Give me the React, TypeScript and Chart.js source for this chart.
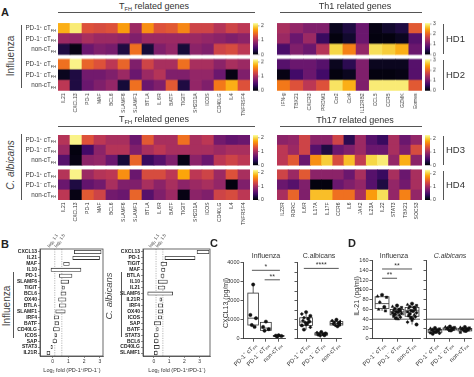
import React, { useEffect, useRef } from "react";
import { Chart, registerables } from "chart.js";

Chart.register(...registerables);
const FONT = "'Liberation Sans', Arial, Helvetica, sans-serif";
Chart.defaults.font.family = FONT;

// ================= Panel A : heat maps =================
const tfhGenes = ["IL21", "CXCL13", "PD-1", "MAF", "BCL6", "SLAMF6", "SLAMF1", "BTLA", "IL 6R", "BATF", "TIGIT", "SH2D1A", "ICOS", "CD40LG", "IL4", "TNFRSF4"];
const th1Genes = ["IFN-g", "TBX21", "CXCR3", "PRDM1", "Ccr2", "Ccl4", "IL12RB2", "CCL5", "CCR5", "GZMK", "Eomes"];
const th17Genes = ["IL23R", "RORC", "IL6R", "IL17A", "IL17F", "CCR6", "IL6", "JAK2", "IL23A", "IL22", "STAT3", "TBX21", "SOCS3"];

// cell values as fraction of each colour scale; rows = PD-1+ cTFH, PD-1- cTFH, non-cTFH
const tfhHD1Pos = [0.82, 0.95, 0.6, 0.58, 0.6, 0.78, 0.42, 0.75, 0.6, 0.62, 0.73, 0.55, 0.55, 0.48, 0.55, 0.5];
const tfhHD1Neg = [0.42, 0.4, 0.45, 0.42, 0.42, 0.4, 0.35, 0.42, 0.42, 0.42, 0.42, 0.42, 0.4, 0.38, 0.35, 0.38];
const tfhHD1Non = [0.12, 0.03, 0.3, 0.35, 0.33, 0.12, 0.68, 0.1, 0.35, 0.4, 0.1, 0.38, 0.35, 0.55, 0.58, 0.5];
const tfhHD2Pos = [0.68, 0.97, 0.65, 0.6, 0.5, 0.65, 0.35, 0.55, 0.45, 0.45, 0.68, 0.45, 0.45, 0.38, 0.45, 0.42];
const tfhHD2Neg = [0.05, 0.12, 0.32, 0.32, 0.35, 0.42, 0.3, 0.42, 0.48, 0.35, 0.35, 0.4, 0.4, 0.3, 0.03, 0.35];
const tfhHD2Non = [0.5, 0.12, 0.3, 0.35, 0.4, 0.1, 0.68, 0.3, 0.35, 0.62, 0.12, 0.4, 0.35, 0.7, 0.82, 0.6];

const th1HD1Pos = [0.45, 0.4, 0.35, 0.35, 0.05, 0.12, 0.3, 0.03, 0.08, 0.12, 0.62];
const th1HD1Neg = [0.42, 0.3, 0.42, 0.18, 0.02, 0.08, 0.3, 0.02, 0.02, 0.05, 0.25];
const th1HD1Non = [0.22, 0.35, 0.3, 0.48, 0.9, 0.72, 0.4, 0.92, 0.88, 0.82, 0.3];
const th1HD2Pos = [0.25, 0.3, 0.3, 0.25, 0.05, 0.15, 0.35, 0.05, 0.05, 0.05, 0.25];
const th1HD2Neg = [0.03, 0.2, 0.3, 0.2, 0.02, 0.05, 0.35, 0.02, 0.02, 0.03, 0.25];
const th1HD2Non = [0.7, 0.6, 0.5, 0.6, 0.93, 0.82, 0.35, 0.95, 0.95, 0.95, 0.62];

const tfhHD3Pos = [0.48, 0.97, 0.6, 0.5, 0.45, 0.45, 0.3, 0.62, 0.45, 0.45, 0.68, 0.45, 0.5, 0.32, 0.28, 0.3];
const tfhHD3Neg = [0.42, 0.02, 0.2, 0.38, 0.48, 0.48, 0.35, 0.45, 0.5, 0.45, 0.45, 0.45, 0.45, 0.42, 0.45, 0.45];
const tfhHD3Non = [0.25, 0.03, 0.38, 0.4, 0.3, 0.1, 0.65, 0.18, 0.25, 0.35, 0.03, 0.38, 0.3, 0.5, 0.55, 0.5];
const tfhHD4Pos = [0.48, 0.97, 0.42, 0.48, 0.5, 0.75, 0.3, 0.58, 0.58, 0.5, 0.8, 0.5, 0.55, 0.42, 0.6, 0.45];
const tfhHD4Neg = [0.3, 0.12, 0.28, 0.32, 0.45, 0.35, 0.35, 0.45, 0.38, 0.45, 0.38, 0.42, 0.45, 0.4, 0.02, 0.35];
const tfhHD4Non = [0.5, 0.03, 0.62, 0.55, 0.32, 0.3, 0.65, 0.25, 0.35, 0.42, 0.03, 0.38, 0.35, 0.55, 0.58, 0.5];

const th17HD3Pos = [0.38, 0.4, 0.55, 0.38, 0.38, 0.55, 0.15, 0.42, 0.25, 0.18, 0.45, 0.3, 0.4];
const th17HD3Neg = [0.5, 0.42, 0.55, 0.25, 0.12, 0.3, 0.35, 0.42, 0.3, 0.3, 0.45, 0.35, 0.58];
const th17HD3Non = [0.5, 0.62, 0.3, 0.75, 0.88, 0.58, 0.85, 0.52, 0.9, 0.95, 0.4, 0.82, 0.38];
const th17HD4Pos = [0.55, 0.42, 0.62, 0.38, 0.38, 0.38, 0.3, 0.45, 0.25, 0.18, 0.45, 0.3, 0.45];
const th17HD4Neg = [0.3, 0.25, 0.35, 0.02, 0.02, 0.3, 0.35, 0.4, 0.25, 0.12, 0.4, 0.32, 0.45];
const th17HD4Non = [0.45, 0.65, 0.35, 0.85, 0.85, 0.68, 0.68, 0.45, 0.78, 0.92, 0.4, 0.72, 0.4];

const tfhScaleMax = 2.2;
const tfhScaleTicks = [0, 1, 2];
const th1ScaleMax = 3.1;
const th1ScaleTicks = [0, 1, 2, 3];
const th17ScaleMax = 2.3;
const th17ScaleTicks = [0, 1, 2];

// ================= Panel B : fold-change ranges =================
const bInfGenes = ["CXCL13", "IL21", "MAF", "IL10", "PD-1", "SLAMF6", "TIGIT", "BCL6", "OX40", "BTLA", "SLAMF1", "IRF4", "BATF", "CD40LG", "ICOS", "SAP", "STAT3", "IL21R"];
const bInfLow = [1.38, 1.28, 0.7, -0.1, 0.43, 0.53, 0.6, 0.53, 0.38, 0.43, 0.2, 0.1, 0.15, 0.05, 0.15, 0.0, -0.1, -0.36];
const bInfHigh = [3.08, 2.98, 1.06, 1.8, 1.23, 1.02, 0.75, 0.85, 0.85, 0.85, 0.8, 0.38, 0.38, 0.43, 0.25, 0.25, 0.0, -0.17];
const bAlbGenes = ["CXCL13", "PD-1", "TIGIT", "MAF", "BTLA", "IL10", "IL21", "SLAMF6", "IL21R", "IRF4", "OX40", "ICOS", "SAP", "BATF", "STAT3", "BCL6", "CD40LG", "SLAMF1"];
const bAlbLow = [2.83, 0.72, 0.46, 0.5, 0.46, 0.28, 0.28, -0.41, 0.39, 0.28, 0.28, 0.28, 0.0, 0.18, 0.02, 0.0, 0.0, 0.0];
const bAlbHigh = [3.62, 2.7, 0.84, 0.72, 0.66, 0.88, 0.72, 1.23, 0.5, 0.57, 0.57, 0.5, 0.44, 0.28, 0.28, 0.28, 0.35, 0.22];
const bTicks = [0, 1, 2, 3];
const bThresholds = [Math.log2(1.1), Math.log2(1.5)];
const bThresholdLabels = ["1.1", "1.5"];

// ================= Panel C : CXCL13 (pg/ml) =================
const cInfPos = [2850, 1250, 1080, 720, 620];
const cInfNeg = [900, 620, 500, 420];
const cInfNon = [180, 160, 140, 110];
const cAlbPos = [1400, 1300, 1200, 1100, 1050, 950, 900, 850, 800, 750, 700, 600, 480];
const cAlbNeg = [350, 320, 280, 250, 230, 200, 180, 150];
const cAlbNon = [1000, 950, 900, 860, 820, 780, 740, 700, 650];
// box stats: min, q1, median, q3, max
const cInfBoxes = [[620, 720, 1080, 2400, 2850], [420, 440, 560, 860, 900], [110, 120, 150, 170, 180]];
const cAlbBoxes = [[480, 700, 880, 1100, 1400], [150, 190, 240, 300, 350], [650, 720, 800, 900, 1000]];

// ================= Panel D : IL-21 (pg/ml) =================
const dInfPos = [90, 87, 85, 75, 65, 60, 57];
const dInfNeg = [68, 66, 64, 62, 60, 58, 57, 56, 55, 54, 53, 52, 50, 48, 46, 44, 42, 40];
const dInfNon = [72, 70, 68, 66, 64, 62, 60, 58, 57, 56, 55, 53, 51, 49, 47, 45, 43, 41, 38, 34, 29];
const dAlbPos = [22, 21, 20, 19, 18, 17, 16, 15, 14, 13, 12, 11, 10];
const dAlbNeg = [25, 24, 23, 22, 21, 20, 19, 18, 17, 16];
const dAlbNon = [24, 23, 22, 21, 20, 19, 18, 17, 16, 15, 13];
const dInfBoxes = [[57, 62, 72, 86, 90], [40, 49, 55, 60, 68], [29, 46, 57, 64, 72]];
const dAlbBoxes = [[10, 13, 16, 19, 22], [16, 18, 20, 22, 25], [13, 16, 19, 21, 24]];
const dDetectionLimit = 40;

// ================= helpers =================
const INF = ["#000004", "#160b39", "#420a68", "#6a176e", "#932667", "#bc3754", "#dd513a", "#f37819", "#fca50a", "#f6d746", "#fcffa4"];
function hex(h: string) {
  return [parseInt(h.slice(1, 3), 16), parseInt(h.slice(3, 5), 16), parseInt(h.slice(5, 7), 16)];
}
function inferno(t: number) {
  const v = Math.max(0, Math.min(1, t)) * 10;
  const i = Math.min(9, Math.floor(v));
  const f = v - i;
  const a = hex(INF[i]);
  const b = hex(INF[i + 1]);
  const c = a.map((x, k) => Math.round(x + (b[k] - x) * f));
  return `rgb(${c[0]},${c[1]},${c[2]})`;
}

type R = { x: number; y: number; w: number; h: number };
function pad(canvas: R, area: R, l = 0, b = 0) {
  return {
    left: area.x - canvas.x - l,
    top: area.y - canvas.y,
    right: canvas.x + canvas.w - (area.x + area.w),
    bottom: canvas.y + canvas.h - (area.y + area.h) - b,
  };
}

type Seg = { t: string; k?: "sup" | "sub" };
function drawRich(ctx: any, segs: Seg[], x: number, y: number, size: number, angle: number, align: "left" | "right", color = "#333") {
  ctx.save();
  ctx.translate(x, y);
  ctx.rotate(angle);
  const fN = `${size}px ${FONT}`;
  const fS = `${size * 0.62}px ${FONT}`;
  let w = 0;
  segs.forEach((s) => {
    ctx.font = s.k ? fS : fN;
    w += ctx.measureText(s.t).width;
  });
  let cx = align === "right" ? -w : 0;
  ctx.textBaseline = "middle";
  ctx.textAlign = "left";
  ctx.fillStyle = color;
  segs.forEach((s) => {
    ctx.font = s.k ? fS : fN;
    const dy = s.k === "sup" ? -size * 0.32 : s.k === "sub" ? size * 0.3 : 0;
    ctx.fillText(s.t, cx, dy);
    cx += ctx.measureText(s.t).width;
  });
  ctx.restore();
}

const groupLabels: Seg[][] = [
  [{ t: "PD-1" }, { t: "+", k: "sup" }, { t: " cT" }, { t: "FH", k: "sub" }],
  [{ t: "PD-1" }, { t: "\u2212", k: "sup" }, { t: " cT" }, { t: "FH", k: "sub" }],
  [{ t: "non-cT" }, { t: "FH", k: "sub" }],
];

// ================= geometry =================
const GAP = 0.45;
const AREA = {
  tfhTop: { x: 58, y: 23, w: 192, h: 67.5 },
  th1Top: { x: 277, y: 23, w: 145, h: 67.5 },
  tfhBot: { x: 58, y: 135, w: 192, h: 65 },
  th17Bot: { x: 277, y: 135, w: 145, h: 65 },
};
const heatCanvas = (a: R): R => ({ x: a.x - 8, y: a.y - 5, w: a.w + 8 + 26, h: a.h + 5 + 32 });
function rowY(a: R, b: number, r: number) {
  const u = a.h / (6 + GAP);
  return a.y + (b * (3 + GAP) + r + 0.5) * u;
}

function heatConfig(area: R, genes: string[], blocks: number[][][], cbMax: number, cbTicks: number[]) {
  const canvas = heatCanvas(area);
  const nb = blocks.length;
  const total = nb * 3 + (nb - 1) * GAP;
  const datasets: any[] = [];
  for (let b = nb - 1; b >= 0; b--) {
    for (let r = 2; r >= 0; r--) {
      datasets.push({
        data: genes.map(() => 1),
        backgroundColor: blocks[b][r].map((v) => inferno(v)),
        borderWidth: 0,
        barPercentage: 1,
        categoryPercentage: 1,
        stack: "s",
      });
    }
    if (b > 0)
      datasets.push({ data: genes.map(() => GAP), backgroundColor: "rgba(0,0,0,0)", borderWidth: 0, barPercentage: 1, categoryPercentage: 1, stack: "s", inflateAmount: 0 });
  }
  return {
    type: "bar",
    data: { labels: genes, datasets },
    options: {
      responsive: false,
      animation: false,
      devicePixelRatio: 1,
      layout: { padding: pad(canvas, area) },
      plugins: { legend: { display: false }, tooltip: { enabled: false } },
      scales: {
        x: { display: false, stacked: true },
        y: { display: false, stacked: true, min: 0, max: total },
      },
    },
    plugins: [
      {
        id: "heatDecor",
        afterDraw(chart: any) {
          const { ctx, chartArea: a, scales } = chart;
          const xs = scales.x;
          const ys = scales.y;
          ctx.save();
          ctx.font = `5px ${FONT}`;
          ctx.fillStyle = "#333";
          ctx.textAlign = "right";
          ctx.textBaseline = "middle";
          genes.forEach((g, i) => {
            const px = xs.getPixelForValue(i);
            ctx.save();
            ctx.translate(px, a.bottom + 2.5);
            ctx.rotate(-Math.PI / 2);
            ctx.fillText(g, 0, 0);
            ctx.restore();
          });
          for (let b = 0; b < nb; b++) {
            const topV = total - b * (3 + GAP);
            const yt = ys.getPixelForValue(topV);
            const yb = ys.getPixelForValue(topV - 3);
            const cx = a.right + 3;
            const grad = ctx.createLinearGradient(0, yb, 0, yt);
            for (let s = 0; s <= 10; s++) grad.addColorStop(s / 10, inferno(s / 10));
            ctx.fillStyle = grad;
            ctx.fillRect(cx, yt, 5, yb - yt);
            ctx.strokeStyle = "#555";
            ctx.lineWidth = 0.5;
            ctx.fillStyle = "#333";
            ctx.textAlign = "left";
            ctx.font = `5px ${FONT}`;
            cbTicks.forEach((v) => {
              const py = yb - (v / cbMax) * (yb - yt);
              ctx.beginPath();
              ctx.moveTo(cx + 5, py);
              ctx.lineTo(cx + 6.5, py);
              ctx.stroke();
              ctx.fillText(String(v), cx + 8, py);
            });
          }
          ctx.restore();
        },
      },
    ],
  };
}

function bConfig(canvas: R, area: R, genes: string[], lo: number[], hi: number[], xmin: number, xmax: number) {
  const yW = 26;
  const xH = 10;
  return {
    type: "bar",
    data: {
      labels: genes,
      datasets: [
        {
          data: lo.map((l, i) => [l, hi[i]]),
          backgroundColor: "#fff",
          borderColor: "#333",
          borderWidth: 0.8,
          borderSkipped: false,
          barThickness: 3.3,
        },
      ],
    },
    options: {
      indexAxis: "y",
      responsive: false,
      animation: false,
      devicePixelRatio: 1,
      layout: { padding: pad(canvas, area, yW, xH) },
      plugins: { legend: { display: false }, tooltip: { enabled: false } },
      scales: {
        x: {
          min: xmin,
          max: xmax,
          afterBuildTicks: (s: any) => {
            s.ticks = bTicks.map((v) => ({ value: v }));
          },
          afterFit: (s: any) => {
            s.height = xH;
          },
          grid: { drawOnChartArea: false, tickLength: 2, color: "#444", lineWidth: 0.6 },
          border: { color: "#444", width: 0.8 },
          ticks: { font: { size: 5 }, color: "#333", padding: 1, maxRotation: 0 },
        },
        y: {
          afterFit: (s: any) => {
            s.width = yW;
          },
          grid: { drawOnChartArea: false, tickLength: 2, offset: false, color: "#444", lineWidth: 0.6 },
          border: { color: "#444", width: 0.8 },
          ticks: { font: { size: 5, weight: "bold" }, color: "#222", padding: 1, autoSkip: false },
        },
      },
    },
    plugins: [
      {
        id: "bDecor",
        beforeDatasetsDraw(chart: any) {
          const { ctx, chartArea: a, scales } = chart;
          ctx.save();
          ctx.strokeStyle = "#888";
          ctx.lineWidth = 0.6;
          ctx.setLineDash([1.2, 1.2]);
          bThresholds.forEach((t) => {
            const px = scales.x.getPixelForValue(t);
            ctx.beginPath();
            ctx.moveTo(px, a.top);
            ctx.lineTo(px, a.bottom);
            ctx.stroke();
          });
          ctx.restore();
        },
        afterDraw(chart: any) {
          const { ctx, chartArea: a, scales } = chart;
          ctx.save();
          ctx.strokeStyle = "#444";
          ctx.lineWidth = 0.8;
          ctx.strokeRect(a.left, a.top, a.right - a.left, a.bottom - a.top);
          bThresholds.forEach((t, i) => {
            const px = scales.x.getPixelForValue(t);
            drawRich(ctx, [{ t: "log" }, { t: "2", k: "sub" }, { t: " " + bThresholdLabels[i] }], px - 6, a.top - 2, 4.5, -Math.PI / 3.2, "left", "#444");
          });
          ctx.restore();
        },
      },
    ],
  };
}

const jitterPattern = [0, -1, 1, -0.5, 0.5, -0.75, 0.75, -0.25, 0.25];
type Sig = { a: number; b: number; y: number; t: string };

function dotConfig(o: any) {
  const datasets = o.groups.map((vals: number[], g: number) => ({
    data: vals.map((v, i) => ({ x: g + jitterPattern[i % jitterPattern.length] * o.spread, y: v })),
    pointRadius: 1.7,
    pointHoverRadius: 1.7,
    pointStyle: vals.map((_, i) => o.styles[i % o.styles.length]),
    backgroundColor: "#111",
    borderColor: "#111",
    borderWidth: 0.4,
  }));
  return {
    type: "scatter",
    data: { datasets },
    options: {
      responsive: false,
      animation: false,
      devicePixelRatio: 1,
      layout: { padding: pad(o.canvas, o.area, o.yW, 4) },
      plugins: { legend: { display: false }, tooltip: { enabled: false } },
      scales: {
        x: {
          type: "linear",
          min: o.xmin,
          max: o.xmax,
          afterBuildTicks: (s: any) => {
            s.ticks = [0, 1, 2].map((v) => ({ value: v }));
          },
          afterFit: (s: any) => {
            s.height = 4;
          },
          ticks: { display: false },
          grid: { drawOnChartArea: false, tickLength: 3, color: "#333", lineWidth: 0.8 },
          border: { color: "#333", width: 0.9 },
        },
        y: {
          min: 0,
          max: o.ymax,
          ticks: { stepSize: o.step, display: o.yLabels, font: { size: 5.5 }, color: "#333", padding: 1, callback: (v: any) => String(v) },
          afterFit: (s: any) => {
            s.width = o.yW;
          },
          grid: { drawOnChartArea: false, tickLength: 2.5, color: "#333", lineWidth: 0.8 },
          border: { color: "#333", width: 0.9 },
        },
      },
    },
    plugins: [
      {
        id: "boxDecor",
        beforeDatasetsDraw(chart: any) {
          const { ctx, chartArea: a, scales } = chart;
          const xs = scales.x;
          const ys = scales.y;
          ctx.save();
          ctx.strokeStyle = "#333";
          ctx.lineWidth = 0.8;
          o.boxes.forEach((bx: number[], g: number) => {
            const [mn, q1, md, q3, mx] = bx;
            const cx = xs.getPixelForValue(g);
            const hw = xs.getPixelForValue(g + o.boxHW) - cx;
            ctx.beginPath();
            ctx.moveTo(cx, ys.getPixelForValue(mn));
            ctx.lineTo(cx, ys.getPixelForValue(q1));
            ctx.moveTo(cx, ys.getPixelForValue(q3));
            ctx.lineTo(cx, ys.getPixelForValue(mx));
            ctx.stroke();
            const yt = ys.getPixelForValue(q3);
            const yb = ys.getPixelForValue(q1);
            ctx.fillStyle = "#fff";
            ctx.fillRect(cx - hw, yt, 2 * hw, yb - yt);
            ctx.strokeRect(cx - hw, yt, 2 * hw, yb - yt);
            const ym = ys.getPixelForValue(md);
            ctx.beginPath();
            ctx.moveTo(cx - hw, ym);
            ctx.lineTo(cx + hw, ym);
            ctx.stroke();
          });
          if (o.thresh !== undefined) {
            const py = ys.getPixelForValue(o.thresh);
            ctx.strokeStyle = "#444";
            ctx.lineWidth = 0.9;
            ctx.beginPath();
            ctx.moveTo(a.left, py);
            ctx.lineTo(o.threshExtend ? chart.width : a.right, py);
            ctx.stroke();
          }
          ctx.restore();
        },
        afterDraw(chart: any) {
          const { ctx, chartArea: a, scales } = chart;
          const xs = scales.x;
          const ys = scales.y;
          ctx.save();
          ctx.strokeStyle = "#444";
          ctx.lineWidth = 0.9;
          ctx.fillStyle = "#333";
          ctx.font = `7px ${FONT}`;
          ctx.textAlign = "center";
          ctx.textBaseline = "bottom";
          (o.sig as Sig[]).forEach((s) => {
            const x1 = xs.getPixelForValue(s.a - o.sigExt);
            const x2 = xs.getPixelForValue(s.b + o.sigExt);
            const py = ys.getPixelForValue(s.y);
            ctx.beginPath();
            ctx.moveTo(x1, py);
            ctx.lineTo(x2, py);
            ctx.stroke();
            ctx.fillText(s.t, (x1 + x2) / 2, py + 0.5);
          });
          groupLabels.forEach((segs, g) => {
            const px = xs.getPixelForValue(g);
            drawRich(ctx, segs, px + 2.5, a.bottom + 6, 6, -Math.PI / 4, "right", "#333");
          });
          ctx.restore();
        },
      },
    ],
  };
}

// ================= React components =================
function ChartBox({ rect, make }: { rect: R; make: () => any }) {
  const ref = useRef<HTMLCanvasElement>(null);
  useEffect(() => {
    const chart = new Chart(ref.current as HTMLCanvasElement, make());
    return () => chart.destroy();
  }, []);
  return (
    <canvas
      ref={ref}
      width={rect.w}
      height={rect.h}
      style={{ position: "absolute", left: rect.x, top: rect.y, width: rect.w, height: rect.h }}
    />
  );
}

function Label(p: { x: number; y: number; size: number; rot?: number; align?: string; bold?: boolean; italic?: boolean; color?: string; children: any }) {
  const tx = p.align === "left" ? "0" : p.align === "right" ? "-100%" : "-50%";
  return (
    <div
      style={{
        position: "absolute",
        left: p.x,
        top: p.y,
        fontSize: p.size,
        lineHeight: 1,
        whiteSpace: "nowrap",
        fontWeight: p.bold ? 700 : 400,
        fontStyle: p.italic ? "italic" : "normal",
        color: p.color || "#333",
        transform: `translate(${tx},-50%)${p.rot ? ` rotate(${p.rot}deg)` : ""}`,
      }}
    >
      {p.children}
    </div>
  );
}
const Sup = ({ children }: any) => <span style={{ fontSize: "0.62em", position: "relative", top: "-0.5em" }}>{children}</span>;
const Sub = ({ children }: any) => <span style={{ fontSize: "0.62em", position: "relative", top: "0.35em" }}>{children}</span>;
const Ln = ({ x, y, w, h }: any) => <div style={{ position: "absolute", left: x, top: y, width: w, height: h, background: "#555" }} />;

const rowLabelEls = [
  <>PD-1<Sup>+</Sup> cT<Sub>FH</Sub></>,
  <>PD-1<Sup>−</Sup> cT<Sub>FH</Sub></>,
  <>non-cT<Sub>FH</Sub></>,
];

export default function App() {
  const rowLabels: any[] = [];
  [AREA.tfhTop, AREA.tfhBot].forEach((a, ai) =>
    [0, 1].forEach((b) =>
      [0, 1, 2].forEach((r) =>
        rowLabels.push(
          <Label key={`rl${ai}${b}${r}`} x={56} y={rowY(a, b, r)} size={6.3} align="right" color="#3a3a3a">
            {rowLabelEls[r]}
          </Label>
        )
      )
    )
  );
  const hdLabels: any[] = [];
  [
    [AREA.th1Top, ["HD1", "HD2"]],
    [AREA.th17Bot, ["HD3", "HD4"]],
  ].forEach(([a, names]: any, ai) =>
    [0, 1].forEach((b) => {
      const u = a.h / (6 + GAP);
      const top = a.y + b * (3 + GAP) * u;
      hdLabels.push(<Ln key={`hl${ai}${b}`} x={443} y={top + 1} w={0.9} h={3 * u - 1} />);
      hdLabels.push(
        <Label key={`ht${ai}${b}`} x={446} y={rowY(a, b, 1)} size={9.5} align="left" color="#333">
          {names[b]}
        </Label>
      );
    })
  );

  const bInfCanvas = { x: 12, y: 234, w: 98, h: 143 };
  const bInfArea = { x: 40, y: 249, w: 63, h: 107 };
  const bAlbCanvas = { x: 115, y: 234, w: 100, h: 143 };
  const bAlbArea = { x: 143, y: 249, w: 67, h: 107 };

  const cInfCanvas = { x: 215, y: 250, w: 77, h: 127 };
  const cInfArea = { x: 243, y: 262.7, w: 42, h: 76 };
  const cAlbCanvas = { x: 275, y: 250, w: 72, h: 127 };
  const cAlbArea = { x: 297, y: 262.7, w: 44, h: 76 };
  const dInfCanvas = { x: 345, y: 250, w: 79, h: 127 };
  const dInfArea = { x: 372, y: 260.7, w: 48, h: 78 };
  const dAlbCanvas = { x: 400, y: 250, w: 74, h: 127 };
  const dAlbArea = { x: 426, y: 260.7, w: 46, h: 78 };
  const dStyles = ["circle", "triangle", "rect", "rectRot"];

  return (
    <div style={{ position: "absolute", left: 0, top: 0, width: 474, height: 377, overflow: "hidden", background: "#fff", fontFamily: FONT, color: "#333" }}>
      <ChartBox rect={heatCanvas(AREA.tfhTop)} make={() => heatConfig(AREA.tfhTop, tfhGenes, [[tfhHD1Pos, tfhHD1Neg, tfhHD1Non], [tfhHD2Pos, tfhHD2Neg, tfhHD2Non]], tfhScaleMax, tfhScaleTicks)} />
      <ChartBox rect={heatCanvas(AREA.th1Top)} make={() => heatConfig(AREA.th1Top, th1Genes, [[th1HD1Pos, th1HD1Neg, th1HD1Non], [th1HD2Pos, th1HD2Neg, th1HD2Non]], th1ScaleMax, th1ScaleTicks)} />
      <ChartBox rect={heatCanvas(AREA.tfhBot)} make={() => heatConfig(AREA.tfhBot, tfhGenes, [[tfhHD3Pos, tfhHD3Neg, tfhHD3Non], [tfhHD4Pos, tfhHD4Neg, tfhHD4Non]], tfhScaleMax, tfhScaleTicks)} />
      <ChartBox rect={heatCanvas(AREA.th17Bot)} make={() => heatConfig(AREA.th17Bot, th17Genes, [[th17HD3Pos, th17HD3Neg, th17HD3Non], [th17HD4Pos, th17HD4Neg, th17HD4Non]], th17ScaleMax, th17ScaleTicks)} />

      <ChartBox rect={bInfCanvas} make={() => bConfig(bInfCanvas, bInfArea, bInfGenes, bInfLow, bInfHigh, -0.8, 3.2)} />
      <ChartBox rect={bAlbCanvas} make={() => bConfig(bAlbCanvas, bAlbArea, bAlbGenes, bAlbLow, bAlbHigh, -0.72, 3.68)} />

      <ChartBox
        rect={cInfCanvas}
        make={() =>
          dotConfig({ canvas: cInfCanvas, area: cInfArea, groups: [cInfPos, cInfNeg, cInfNon], boxes: cInfBoxes, ymax: 4000, step: 500, yLabels: true, yW: 20, xmin: -0.8, xmax: 2.5, boxHW: 0.42, spread: 0.22, styles: ["circle"], sigExt: 0.1, sig: [{ a: 0, b: 2, y: 3600, t: "*" }, { a: 1, b: 2, y: 3100, t: "**" }] })
        }
      />
      <ChartBox
        rect={cAlbCanvas}
        make={() =>
          dotConfig({ canvas: cAlbCanvas, area: cAlbArea, groups: [cAlbPos, cAlbNeg, cAlbNon], boxes: cAlbBoxes, ymax: 4000, step: 500, yLabels: false, yW: 3, xmin: -0.6, xmax: 2.3, boxHW: 0.42, spread: 0.28, styles: ["circle", "rectRot"], sigExt: 0.15, sig: [{ a: 0, b: 2, y: 3700, t: "****" }] })
        }
      />
      <ChartBox
        rect={dInfCanvas}
        make={() =>
          dotConfig({ canvas: dInfCanvas, area: dInfArea, groups: [dInfPos, dInfNeg, dInfNon], boxes: dInfBoxes, ymax: 160, step: 20, yLabels: true, yW: 15, xmin: -0.67, xmax: 2.53, boxHW: 0.46, spread: 0.3, styles: dStyles, sigExt: 0, sig: [{ a: 0, b: 1, y: 124, t: "**" }, { a: 0, b: 2, y: 143, t: "**" }], thresh: dDetectionLimit })
        }
      />
      <ChartBox
        rect={dAlbCanvas}
        make={() =>
          dotConfig({ canvas: dAlbCanvas, area: dAlbArea, groups: [dAlbPos, dAlbNeg, dAlbNon], boxes: dAlbBoxes, ymax: 160, step: 20, yLabels: false, yW: 3, xmin: -0.6, xmax: 2.47, boxHW: 0.46, spread: 0.3, styles: dStyles, sigExt: 0, sig: [], thresh: dDetectionLimit, threshExtend: true })
        }
      />

      {/* panel letters */}
      <Label x={5} y={12} size={11} bold color="#222">A</Label>
      <Label x={5} y={244} size={11} bold color="#222">B</Label>
      <Label x={214} y={243} size={11} bold color="#222">C</Label>
      <Label x={352} y={243} size={11} bold color="#222">D</Label>

      {/* Panel A titles */}
      <Label x={154} y={6} size={9}>T<Sub>FH</Sub> related genes</Label>
      <Label x={355} y={6} size={9}>Th1 related genes</Label>
      <Ln x={58} y={12} w={197} h={0.8} />
      <Ln x={280} y={12} w={142} h={0.8} />
      <Label x={154} y={119} size={9}>T<Sub>FH</Sub> related genes</Label>
      <Label x={355} y={120} size={9}>Th17 related genes</Label>
      <Ln x={58} y={126} w={197} h={0.8} />
      <Ln x={280} y={126} w={142} h={0.8} />

      <Label x={11} y={56} size={10} rot={-90} color="#444">Influenza</Label>
      <Ln x={21} y={25} w={0.9} h={63} />
      <Label x={11} y={165} size={10} rot={-90} italic color="#444">C. albicans</Label>
      <Ln x={21} y={134} w={0.9} h={66} />
      {rowLabels}
      {hdLabels}

      {/* Panel B */}
      <Label x={7} y={306} size={10} rot={-90} color="#444">Influenza</Label>
      <Ln x={13} y={272} w={0.9} h={66} />
      <Label x={109} y={296} size={9.5} rot={-90} italic color="#444">C. albicans</Label>
      <Ln x={121} y={272} w={0.9} h={65} />
      <Label x={72} y={371} size={5.5} color="#333">Log<Sub>2</Sub> fold (PD-1<Sup>+</Sup>/PD-1<Sup>−</Sup>)</Label>
      <Label x={177} y={371} size={5.5} color="#333">Log<Sub>2</Sub> fold (PD-1<Sup>+</Sup>/PD-1<Sup>−</Sup>)</Label>

      {/* Panel C / D titles */}
      <Label x={266} y={255} size={7}>Influenza</Label>
      <Label x={319} y={255} size={7}>C.albicans</Label>
      <Label x={225} y={303} size={7} rot={-90}>CXCL13 (pg/ml)</Label>
      <Label x={394} y={255} size={7}>Influenza</Label>
      <Label x={450} y={255} size={7} italic>C.albicans</Label>
      <Label x={356} y={296} size={7} rot={-90}>IL-21 (pg/ml)</Label>
    </div>
  );
}
